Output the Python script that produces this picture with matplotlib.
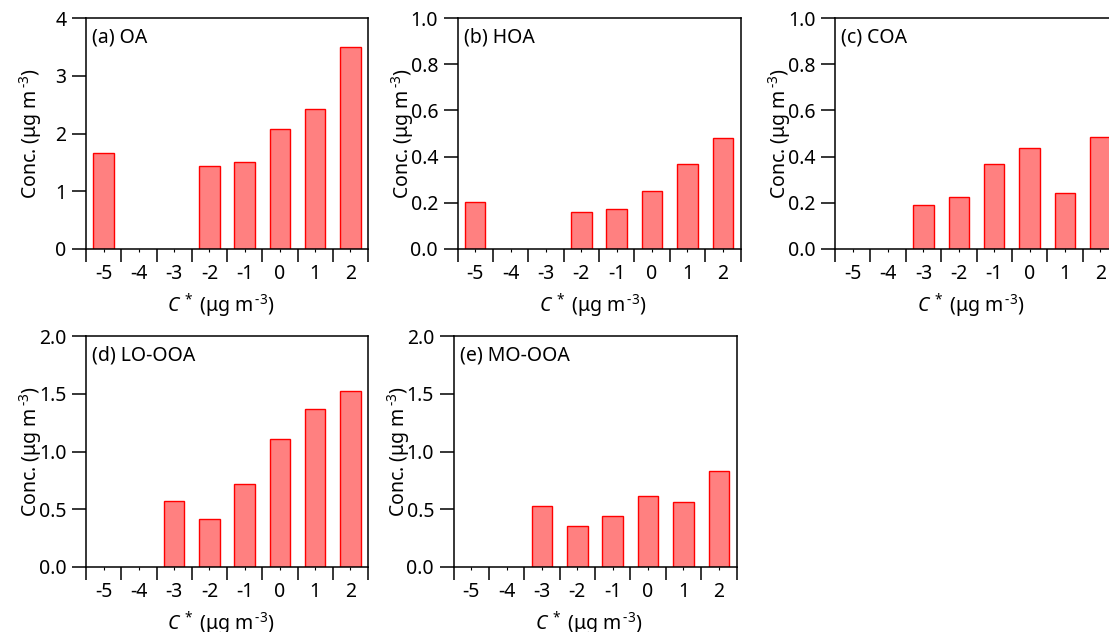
"""
各因子在不同挥发性区间(C*)上的浓度分布
"""

import matplotlib

matplotlib.use("Agg")
from matplotlib import pyplot as plt
import numpy as np

# 数据
c_star_bins = [-5, -4, -3, -2, -1, 0, 1, 2]
bin_labels = ["-5", "-4", "-3", "-2", "-1", "0", "1", "2"]

oa_conc = [1.67, 0, 0, 1.43, 1.50, 2.08, 2.43, 3.49]
hoa_conc = [0.205, 0, 0, 0.159, 0.175, 0.251, 0.366, 0.480]
coa_conc = [0, 0, 0.190, 0.227, 0.368, 0.436, 0.241, 0.486]
lo_ooa_conc = [0, 0, 0.569, 0.416, 0.716, 1.105, 1.365, 1.524]
mo_ooa_conc = [0, 0, 0.531, 0.352, 0.444, 0.618, 0.560, 0.834]

panel_titles = ["(a) OA", "(b) HOA", "(c) COA", "(d) LO-OOA", "(e) MO-OOA"]
y_maxes = [4, 1.0, 1.0, 2.0, 2.0]
y_steps = [1, 0.2, 0.2, 0.5, 0.5]

# 字体设置
plt.rcParams["font.family"] = ["Noto Sans", "DejaVu Sans"]
plt.rcParams["font.size"] = 14
plt.rcParams["mathtext.fontset"] = "custom"
plt.rcParams["mathtext.rm"] = "Noto Sans"
plt.rcParams["mathtext.it"] = "Noto Sans:italic"
plt.rcParams["axes.unicode_minus"] = False

W, H = 1109, 632


def px_axes(fig, left, right, top, zero):
    """按像素位置创建坐标轴"""
    return fig.add_axes(
        [left / W, (H - zero) / H, (right - left) / W, (zero - top) / H]
    )


def draw_panel(ax, values, title, y_max, y_step, integer_ticks=False):
    x = np.array(c_star_bins)
    # 零值柱不画边框
    edge_w = [1.0 if v > 0 else 0 for v in values]
    ax.bar(
        x,
        values,
        width=0.58,
        facecolor="#FF8080",
        edgecolor="#FF0000",
        linewidth=edge_w,
        zorder=2,
    )
    ax.set_xlim(x[0] - 0.5, x[-1] + 0.5)
    ax.set_ylim(0, y_max)

    # x轴: 边界处长刻度, 中心处短刻度并标注
    ax.set_xticks(np.arange(x[0] - 0.5, x[-1] + 1.0, 1.0))
    ax.set_xticklabels([])
    ax.set_xticks(x, minor=True)
    ax.set_xticklabels(bin_labels, minor=True)
    ax.tick_params(axis="x", which="major", direction="out", length=9.5, width=1.1)
    ax.tick_params(axis="x", which="minor", direction="out", length=2, width=0.8, pad=9)

    yticks = np.arange(0, y_max + y_step / 2, y_step)
    ax.set_yticks(yticks)
    if integer_ticks:
        ax.set_yticklabels([f"{v:.0f}" for v in yticks])
    else:
        ax.set_yticklabels([f"{v:.1f}" for v in yticks])
    ax.tick_params(axis="y", direction="out", length=10, width=1.1, pad=4)

    for sp in ax.spines.values():
        sp.set_linewidth(1.1)

    ax.text(0.022, 0.96, title, transform=ax.transAxes, ha="left", va="top")

    ax.set_ylabel(r"Conc. (μg m$^{\,\text{-3}}$)")
    ax.yaxis.set_label_coords(-0.148, 0.5)
    ax.set_xlabel(r"$C^{\,*}$ (μg m$^{\,\text{-3}}$)")
    ax.xaxis.set_label_coords(0.48, -0.185)


fig = plt.figure(figsize=(W / 100, H / 100), dpi=100)

axes = [
    px_axes(fig, 86, 368, 18, 249),
    px_axes(fig, 457.5, 740.5, 18, 249),
    px_axes(fig, 835, 1118, 18, 249),
    px_axes(fig, 86, 368, 336, 567),
    px_axes(fig, 453.5, 736.5, 336, 567),
]
all_values = [oa_conc, hoa_conc, coa_conc, lo_ooa_conc, mo_ooa_conc]

for i, ax in enumerate(axes):
    draw_panel(ax, all_values[i], panel_titles[i], y_maxes[i], y_steps[i], integer_ticks=(i == 0))

fig.savefig("out.png", dpi=100, facecolor="white")
plt.close(fig)
